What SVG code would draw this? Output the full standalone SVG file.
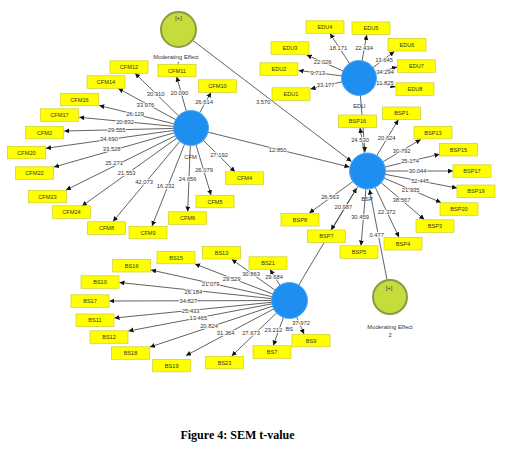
<svg xmlns="http://www.w3.org/2000/svg" width="510" height="463" viewBox="0 0 510 463">
<defs>
<marker id="ah" markerUnits="userSpaceOnUse" markerWidth="6" markerHeight="6" refX="5" refY="2.5" orient="auto"><path d="M0,0 L5,2.5 L0,5 z" fill="#111"/></marker>
<style>
.c line{stroke:#3a3a3a;stroke-width:0.8;marker-end:url(#ah)}
.lb{font-family:"Liberation Sans",Arial,sans-serif;font-size:5.8px;fill:#333;text-anchor:middle;stroke:#fff;stroke-width:1.6;paint-order:stroke}
.bx rect{fill:#ffff00;stroke:#cccc30;stroke-width:0.7}
.bx text{font-family:"Liberation Sans",Arial,sans-serif;font-size:5.6px;fill:#333;text-anchor:middle}
.lv{fill:#1e8ef0;stroke:#55aaf2;stroke-width:1}
.me{fill:#c6db3c;stroke:#8a9a46;stroke-width:2}
.nt{font-family:"Liberation Sans",Arial,sans-serif;font-size:5.8px;fill:#333;text-anchor:middle}
</style>
</defs>
<rect width="510" height="463" fill="#fff"/>
<g id="connectors" class="c">
<line x1="178.5" y1="29.5" x2="351.5" y2="161.5"/>
<line x1="191" y1="128" x2="349.5" y2="167"/>
<line x1="359" y1="78" x2="365" y2="152"/>
<line x1="289.5" y1="300.5" x2="356.7" y2="188"/>
<line x1="389" y1="290" x2="369.5" y2="189.5"/>
<line x1="191" y1="128" x2="135" y2="73.3"/>
<line x1="191" y1="128" x2="176.7" y2="76.7"/>
<line x1="191" y1="128" x2="211" y2="92.5"/>
<line x1="191" y1="128" x2="118.3" y2="88.5"/>
<line x1="191" y1="128" x2="99.3" y2="105.5"/>
<line x1="191" y1="128" x2="79.3" y2="117.3"/>
<line x1="191" y1="128" x2="64.3" y2="131"/>
<line x1="191" y1="128" x2="46" y2="148.3"/>
<line x1="191" y1="128" x2="54" y2="167"/>
<line x1="191" y1="128" x2="66" y2="190"/>
<line x1="191" y1="128" x2="82" y2="206"/>
<line x1="191" y1="128" x2="113" y2="221.5"/>
<line x1="191" y1="128" x2="152" y2="226"/>
<line x1="191" y1="128" x2="187.7" y2="211.5"/>
<line x1="191" y1="128" x2="211" y2="195"/>
<line x1="191" y1="128" x2="235" y2="171.8"/>
<line x1="359" y1="78" x2="330" y2="33.5"/>
<line x1="359" y1="78" x2="366.7" y2="35"/>
<line x1="359" y1="78" x2="394.3" y2="51.5"/>
<line x1="359" y1="78" x2="397" y2="67"/>
<line x1="359" y1="78" x2="395.5" y2="87"/>
<line x1="359" y1="78" x2="306.7" y2="55"/>
<line x1="359" y1="78" x2="298.5" y2="70.5"/>
<line x1="359" y1="78" x2="310.5" y2="89"/>
<line x1="367.5" y1="171" x2="360" y2="128"/>
<line x1="367.5" y1="171" x2="398.3" y2="119.8"/>
<line x1="367.5" y1="171" x2="420.7" y2="139.5"/>
<line x1="367.5" y1="171" x2="439.5" y2="154.3"/>
<line x1="367.5" y1="171" x2="453" y2="171"/>
<line x1="367.5" y1="171" x2="457" y2="188"/>
<line x1="367.5" y1="171" x2="441" y2="202.5"/>
<line x1="367.5" y1="171" x2="424.3" y2="219.5"/>
<line x1="367.5" y1="171" x2="399" y2="237.3"/>
<line x1="367.5" y1="171" x2="361" y2="245.5"/>
<line x1="367.5" y1="171" x2="309.3" y2="213"/>
<line x1="367.5" y1="171" x2="331" y2="230"/>
<line x1="289.5" y1="300.5" x2="231.7" y2="259.3"/>
<line x1="289.5" y1="300.5" x2="270" y2="269.5"/>
<line x1="289.5" y1="300.5" x2="195" y2="264"/>
<line x1="289.5" y1="300.5" x2="151" y2="270"/>
<line x1="289.5" y1="300.5" x2="119.5" y2="282.5"/>
<line x1="289.5" y1="300.5" x2="109.5" y2="301"/>
<line x1="289.5" y1="300.5" x2="114.5" y2="318"/>
<line x1="289.5" y1="300.5" x2="128.5" y2="331"/>
<line x1="289.5" y1="300.5" x2="150" y2="347"/>
<line x1="289.5" y1="300.5" x2="186" y2="355.5"/>
<line x1="289.5" y1="300.5" x2="231.7" y2="356"/>
<line x1="289.5" y1="300.5" x2="273.3" y2="345.5"/>
<line x1="289.5" y1="300.5" x2="304" y2="334"/>
<g id="edge-labels">
<text class="lb" x="263.3" y="103.7">3.570</text>
<text class="lb" x="277.7" y="152">12.850</text>
<text class="lb" x="376.7" y="237">0.477</text>
<text class="lb" x="155.7" y="96.3">30.910</text>
<text class="lb" x="179.3" y="94.7">20.090</text>
<text class="lb" x="204" y="104.3">26.614</text>
<text class="lb" x="145.3" y="107">33.976</text>
<text class="lb" x="135" y="116.3">26.129</text>
<text class="lb" x="125" y="123.7">20.832</text>
<text class="lb" x="116.7" y="132">29.555</text>
<text class="lb" x="109" y="141.3">24.690</text>
<text class="lb" x="111.7" y="151">33.528</text>
<text class="lb" x="114" y="165.3">25.271</text>
<text class="lb" x="126.7" y="174.7">21.553</text>
<text class="lb" x="144" y="183.7">42.073</text>
<text class="lb" x="165.7" y="187.7">16.232</text>
<text class="lb" x="187.7" y="181.3">24.656</text>
<text class="lb" x="204" y="172">26.079</text>
<text class="lb" x="219" y="157">27.192</text>
<text class="lb" x="338.3" y="49.7">18.171</text>
<text class="lb" x="364" y="49.7">22.434</text>
<text class="lb" x="384" y="62">13.645</text>
<text class="lb" x="385" y="73.7">34.294</text>
<text class="lb" x="385" y="85.3">11.825</text>
<text class="lb" x="322.7" y="64.3">22.026</text>
<text class="lb" x="317.7" y="75.3">9.713</text>
<text class="lb" x="325.7" y="87">33.177</text>
<text class="lb" x="360" y="142">24.530</text>
<text class="lb" x="386.7" y="139.7">20.624</text>
<text class="lb" x="401.7" y="152.7">30.792</text>
<text class="lb" x="410" y="163">25.174</text>
<text class="lb" x="417.7" y="172.7">30.044</text>
<text class="lb" x="420" y="182.7">52.445</text>
<text class="lb" x="410.7" y="192">21.935</text>
<text class="lb" x="401.7" y="202">38.567</text>
<text class="lb" x="386.7" y="214.3">22.372</text>
<text class="lb" x="360" y="218.7">30.459</text>
<text class="lb" x="330" y="198.7">26.563</text>
<text class="lb" x="343.3" y="209.3">20.987</text>
<text class="lb" x="251" y="276.3">30.863</text>
<text class="lb" x="274" y="279.3">29.684</text>
<text class="lb" x="231.7" y="281.3">29.529</text>
<text class="lb" x="210.7" y="286">21.079</text>
<text class="lb" x="193.3" y="294.3">26.184</text>
<text class="lb" x="188.3" y="303">34.827</text>
<text class="lb" x="190.7" y="312.7">25.433</text>
<text class="lb" x="198.3" y="319.7">13.465</text>
<text class="lb" x="209" y="327.7">20.824</text>
<text class="lb" x="225.7" y="335.3">31.364</text>
<text class="lb" x="251" y="334.7">27.673</text>
<text class="lb" x="273.3" y="332">23.212</text>
<text class="lb" x="301" y="325.3">37.972</text>
</g>
</g>
<g id="mod1"><circle class="me" cx="178.5" cy="29.5" r="17.5"/><text class="nt" x="178.5" y="19.5" font-size="5">[+]</text><text class="nt" x="176" y="58.5">Moderating Effect</text><text class="nt" x="178.3" y="65.5">1</text></g>
<g id="mod2"><circle class="me" cx="390" cy="297" r="17"/><text class="nt" x="389" y="290" font-size="5">[+]</text><text class="nt" x="390" y="328.5">Moderating Effect</text><text class="nt" x="390" y="336.5">2</text></g>
<g id="CFM"><circle class="lv" cx="191" cy="128" r="17.5"/><text class="nt" x="190.5" y="158.5">CFM</text></g>
<g id="EDU"><circle class="lv" cx="359" cy="78" r="17.5"/><text class="nt" x="359.3" y="108">EDU</text></g>
<g id="BSP"><circle class="lv" cx="367.5" cy="171" r="18"/><text class="nt" x="367" y="200.5">BSP</text></g>
<g id="BS"><circle class="lv" cx="289.5" cy="300.5" r="18"/><text class="nt" x="289.3" y="330.5">BS</text></g>
<g class="bx">
<g id="CFM12"><rect x="110" y="60.8" width="38" height="12.5"/><text x="129" y="69">CFM12</text></g>
<g id="CFM11"><rect x="158" y="64.3" width="38" height="12.5"/><text x="177" y="72.5">CFM11</text></g>
<g id="CFM10"><rect x="198.5" y="79.8" width="38" height="12.5"/><text x="217.5" y="88">CFM10</text></g>
<g id="CFM14"><rect x="87" y="75.8" width="38" height="12.5"/><text x="106" y="84">CFM14</text></g>
<g id="CFM16"><rect x="60.5" y="93.3" width="38" height="12.5"/><text x="79.5" y="101.5">CFM16</text></g>
<g id="CFM17"><rect x="40.5" y="108.8" width="38" height="12.5"/><text x="59.5" y="117">CFM17</text></g>
<g id="CFM2"><rect x="25.5" y="126.3" width="38" height="12.5"/><text x="44.5" y="134.5">CFM2</text></g>
<g id="CFM20"><rect x="7.5" y="146.3" width="38" height="12.5"/><text x="26.5" y="154.5">CFM20</text></g>
<g id="CFM22"><rect x="15.5" y="166.8" width="38" height="12.5"/><text x="34.5" y="175">CFM22</text></g>
<g id="CFM23"><rect x="28.5" y="190.3" width="38" height="12.5"/><text x="47.5" y="198.5">CFM23</text></g>
<g id="CFM24"><rect x="52.5" y="205.8" width="38" height="12.5"/><text x="71.5" y="214">CFM24</text></g>
<g id="CFM8"><rect x="87.5" y="221.8" width="38" height="12.5"/><text x="106.5" y="230">CFM8</text></g>
<g id="CFM9"><rect x="129" y="226.3" width="38" height="12.5"/><text x="148" y="234.5">CFM9</text></g>
<g id="CFM6"><rect x="168.5" y="211.8" width="38" height="12.5"/><text x="187.5" y="220">CFM6</text></g>
<g id="CFM5"><rect x="196" y="195.3" width="38" height="12.5"/><text x="215" y="203.5">CFM5</text></g>
<g id="CFM4"><rect x="225.5" y="171.8" width="38" height="12.5"/><text x="244.5" y="180">CFM4</text></g>
<g id="EDU4"><rect x="306" y="20.8" width="38" height="12.5"/><text x="325" y="29">EDU4</text></g>
<g id="EDU5"><rect x="352" y="22" width="38" height="12.5"/><text x="371" y="30.3">EDU5</text></g>
<g id="EDU6"><rect x="388" y="38.5" width="38" height="12.5"/><text x="407" y="46.7">EDU6</text></g>
<g id="EDU7"><rect x="397.5" y="59.8" width="38" height="12.5"/><text x="416.5" y="68">EDU7</text></g>
<g id="EDU8"><rect x="396" y="82.8" width="38" height="12.5"/><text x="415" y="91">EDU8</text></g>
<g id="EDU3"><rect x="271" y="41.8" width="38" height="12.5"/><text x="290" y="50">EDU3</text></g>
<g id="EDU2"><rect x="260" y="62.8" width="38" height="12.5"/><text x="279" y="71">EDU2</text></g>
<g id="EDU1"><rect x="272" y="87.8" width="38" height="12.5"/><text x="291" y="96">EDU1</text></g>
<g id="BSP16"><rect x="338.5" y="115" width="38" height="12.5"/><text x="357.5" y="123.3">BSP16</text></g>
<g id="BSP1"><rect x="382.5" y="107" width="38" height="12.5"/><text x="401.5" y="115.3">BSP1</text></g>
<g id="BSP13"><rect x="414" y="126.3" width="38" height="12.5"/><text x="433" y="134.5">BSP13</text></g>
<g id="BSP15"><rect x="439.5" y="143.5" width="38" height="12.5"/><text x="458.5" y="151.7">BSP15</text></g>
<g id="BSP17"><rect x="453" y="164.8" width="38" height="12.5"/><text x="472" y="173">BSP17</text></g>
<g id="BSP19"><rect x="457" y="185" width="38" height="12.5"/><text x="476" y="193.3">BSP19</text></g>
<g id="BSP20"><rect x="440" y="202.8" width="38" height="12.5"/><text x="459" y="211">BSP20</text></g>
<g id="BSP3"><rect x="416" y="219.8" width="38" height="12.5"/><text x="435" y="228">BSP3</text></g>
<g id="BSP4"><rect x="384" y="237.5" width="38" height="12.5"/><text x="403" y="245.7">BSP4</text></g>
<g id="BSP5"><rect x="340" y="245.8" width="38" height="12.5"/><text x="359" y="254">BSP5</text></g>
<g id="BSP8"><rect x="281" y="213.5" width="38" height="12.5"/><text x="300" y="221.7">BSP8</text></g>
<g id="BSP7"><rect x="307.5" y="230" width="38" height="12.5"/><text x="326.5" y="238.3">BSP7</text></g>
<g id="BS13"><rect x="202.5" y="246.5" width="38" height="12.5"/><text x="221.5" y="254.8">BS13</text></g>
<g id="BS21"><rect x="249" y="256.8" width="38" height="12.5"/><text x="268" y="265">BS21</text></g>
<g id="BS15"><rect x="157" y="251.3" width="38" height="12.5"/><text x="176" y="259.5">BS15</text></g>
<g id="BS16"><rect x="112.7" y="259.5" width="38" height="12.5"/><text x="131.7" y="267.8">BS16</text></g>
<g id="BS10"><rect x="81" y="275.8" width="38" height="12.5"/><text x="100" y="284">BS10</text></g>
<g id="BS17"><rect x="71" y="294.8" width="38" height="12.5"/><text x="90" y="303">BS17</text></g>
<g id="BS11"><rect x="76" y="314" width="38" height="12.5"/><text x="95" y="322.3">BS11</text></g>
<g id="BS12"><rect x="90" y="330.8" width="38" height="12.5"/><text x="109" y="339">BS12</text></g>
<g id="BS18"><rect x="111.5" y="346.8" width="38" height="12.5"/><text x="130.5" y="355">BS18</text></g>
<g id="BS19"><rect x="152.7" y="359.3" width="38" height="12.5"/><text x="171.7" y="367.5">BS19</text></g>
<g id="BS23"><rect x="205.5" y="356.3" width="38" height="12.5"/><text x="224.5" y="364.5">BS23</text></g>
<g id="BS7"><rect x="253" y="345.8" width="38" height="12.5"/><text x="272" y="354">BS7</text></g>
<g id="BS9"><rect x="292" y="334.3" width="38" height="12.5"/><text x="311" y="342.5">BS9</text></g>
</g>
<text x="237.5" y="439" font-family="Liberation Serif,'Times New Roman',serif" font-size="12" font-weight="bold" text-anchor="middle" fill="#000">Figure 4: SEM t-value</text>
</svg>
